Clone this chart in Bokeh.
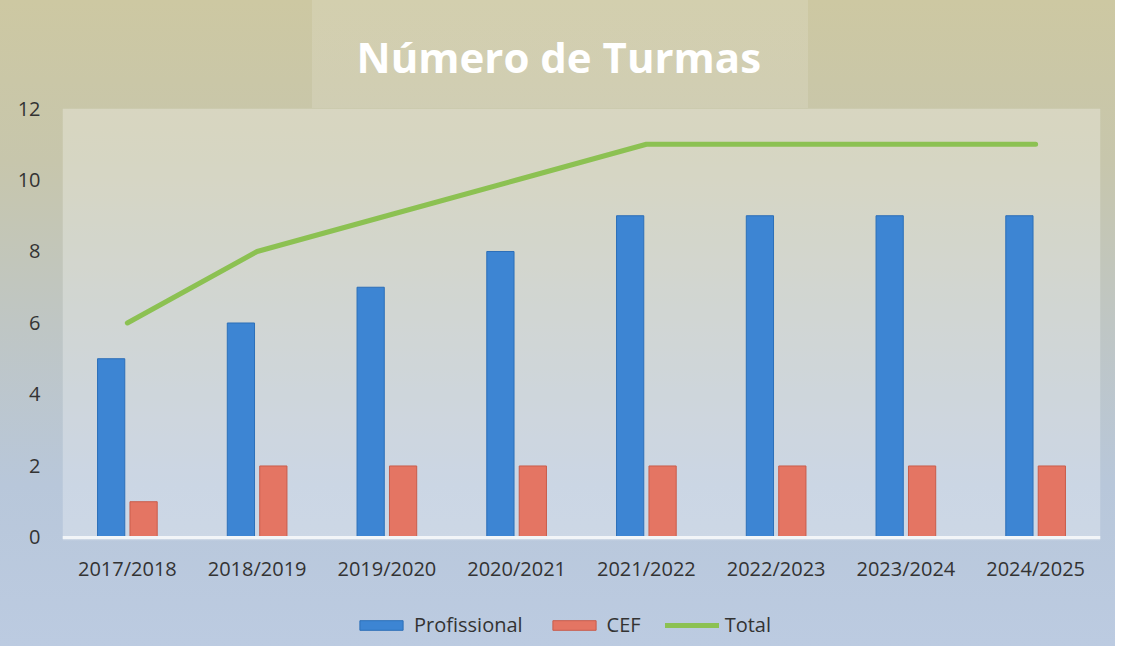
from bokeh.plotting import figure
from bokeh.models import Legend, LegendItem, FactorRange, ColumnDataSource, BoxAnnotation
from bokeh.transform import dodge
from bokeh.embed import file_html
from bokeh.resources import INLINE

categories = ["2017/2018", "2018/2019", "2019/2020", "2020/2021",
              "2021/2022", "2022/2023", "2023/2024", "2024/2025"]
profissional = [5, 6, 7, 8, 9, 9, 9, 9]
cef = [1, 2, 2, 2, 2, 2, 2, 2]
total = [6, 8, 9, 10, 11, 11, 11, 11]
y_ticks = [0, 2, 4, 6, 8, 10, 12]

FONT = "Open Sans"

p = figure(x_range=FactorRange(*categories), y_range=(-3.05, 12),
           width=1115, height=646, output_backend="svg", toolbar_location=None,
           min_border_left=62, min_border_right=15, min_border_top=108, min_border_bottom=0)

p.styles = {"background": "linear-gradient(to right, rgba(255,255,255,0) 28%, rgba(255,255,255,0.13) 28%, rgba(255,255,255,0.13) 72.5%, rgba(255,255,255,0) 72.5%) top left / 100% 108px no-repeat, linear-gradient(to bottom, #cdc8a2 0%, #c7c6ac 25%, #bfc6c4 50%, #b8c7da 75%, #bccbe1 100%)"}
p.border_fill_alpha = 0
p.background_fill_alpha = 0
p.outline_line_color = None

# lighter plot panel
p.add_layout(BoxAnnotation(bottom=-0.08, fill_color="white", fill_alpha=0.28, line_color=None, level="underlay"))

p.title.text = "Número de Turmas"
p.title.align = "left"
p.title.offset = 294
p.title.text_font = FONT
p.title.text_font_size = "42px"
p.title.text_font_style = "bold"
p.title.text_color = "white"
p.title.standoff = 48

source = ColumnDataSource(dict(cat=categories, prof=profissional, cef=cef, total=total))

r_prof = p.vbar(x=dodge("cat", -0.125, range=p.x_range), top="prof", width=0.21, source=source,
                fill_color="#3d85d3", line_color="#2c6fb8", line_width=1)
r_cef = p.vbar(x=dodge("cat", 0.125, range=p.x_range), top="cef", width=0.21, source=source,
               fill_color="#e47563", line_color="#c95c4b", line_width=1)
r_tot = p.line(x="cat", y="total", source=source, line_color="#8cc152", line_width=5,
               line_cap="round", line_join="round")

p.xgrid.grid_line_color = None
p.ygrid.grid_line_color = None

p.yaxis.ticker = y_ticks
p.yaxis.axis_line_color = None
p.yaxis.major_tick_line_color = None
p.yaxis.minor_tick_line_color = None
p.yaxis.major_label_text_font = FONT
p.yaxis.major_label_text_font_size = "20px"
p.yaxis.major_label_text_color = "#333333"
p.yaxis.major_label_standoff = 16

p.xaxis.fixed_location = 0
p.xaxis.axis_line_color = "#f2f5f8"
p.xaxis.axis_line_width = 3
p.xaxis.major_tick_line_color = None
p.xaxis.minor_tick_line_color = None
p.xaxis.major_label_text_font = FONT
p.xaxis.major_label_text_font_size = "20px"
p.xaxis.major_label_text_color = "#333333"
p.xaxis.major_label_standoff = 12

legend = Legend(items=[LegendItem(label="Profissional", renderers=[r_prof]),
                       LegendItem(label="CEF", renderers=[r_cef]),
                       LegendItem(label="Total", renderers=[r_tot])],
                orientation="horizontal", location=(292, 8),
                glyph_width=54, glyph_height=12, spacing=24, label_standoff=6,
                label_text_font=FONT, label_text_font_size="20px", label_text_color="#333333",
                background_fill_alpha=0, border_line_color=None, margin=0, padding=4)
p.add_layout(legend, "center")

open("out.html", "w").write(file_html(p, INLINE))
